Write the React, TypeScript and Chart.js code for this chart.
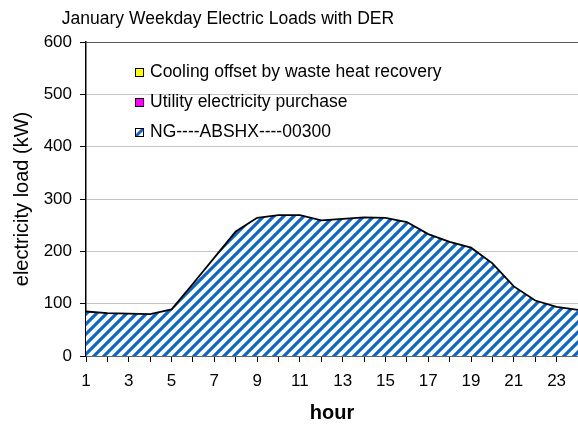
import { useEffect, useRef } from "react";
import { Chart, registerables } from "chart.js";

Chart.register(...registerables);

const chartTitle = "January Weekday Electric Loads with DER";
const hours = ["1", "2", "3", "4", "5", "6", "7", "8", "9", "10", "11", "12", "13", "14", "15", "16", "17", "18", "19", "20", "21", "22", "23", "24"];
const ngLoad = [85, 82, 81, 80, 89, 138, 188, 238, 264, 269, 269, 259, 262, 265, 264, 256, 233, 218, 207, 177, 133, 106, 94, 88];
const utilityPurchase = [0, 0, 0, 0, 0, 0, 0, 0, 0, 0, 0, 0, 0, 0, 0, 0, 0, 0, 0, 0, 0, 0, 0, 0];
const coolingOffset = [0, 0, 0, 0, 0, 0, 0, 0, 0, 0, 0, 0, 0, 0, 0, 0, 0, 0, 0, 0, 0, 0, 0, 0];
const seriesLabels = ["NG----ABSHX----00300", "Utility electricity purchase", "Cooling offset by waste heat recovery"];
const yTicks = [0, 100, 200, 300, 400, 500, 600];

const FONT = "'Liberation Sans', Arial, sans-serif";
const BLUE = "#0a66cc";

function makePattern(): CanvasPattern | string {
  const s = 10;
  const c = document.createElement("canvas");
  c.width = s;
  c.height = s;
  const g = c.getContext("2d");
  if (!g) return BLUE;
  g.fillStyle = "#ffffff";
  g.fillRect(0, 0, s, s);
  g.strokeStyle = BLUE;
  g.lineWidth = 3.2;
  g.lineCap = "square";
  g.beginPath();
  g.moveTo(0, s);
  g.lineTo(s, 0);
  g.moveTo(-3, 3);
  g.lineTo(3, -3);
  g.moveTo(s - 3, s + 3);
  g.lineTo(s + 3, s - 3);
  g.stroke();
  const p = g.createPattern(c, "repeat");
  return p || BLUE;
}

const titlePlugin = {
  id: "customTitle",
  afterDraw(chart: any) {
    const ctx = chart.ctx;
    ctx.save();
    ctx.font = `17.5px ${FONT}`;
    ctx.fillStyle = "#000";
    ctx.textAlign = "center";
    ctx.textBaseline = "middle";
    ctx.fillText(chartTitle, 228, 19);
    ctx.restore();
  },
};

const legendPlugin = {
  id: "customLegend",
  afterDraw(chart: any) {
    const ctx = chart.ctx;
    const ds = chart.data.datasets;
    const order = [2, 1, 0];
    ctx.save();
    ctx.font = `17.5px ${FONT}`;
    ctx.textBaseline = "middle";
    ctx.textAlign = "left";
    order.forEach((di, row) => {
      const d = ds[di];
      const cy = 72.5 + row * 30;
      const bx = 135;
      const by = Math.round(cy - 4.5);
      if (d.legendKind === "hatch") {
        ctx.fillStyle = "#fff";
        ctx.fillRect(bx, by, 9, 9);
        ctx.save();
        ctx.beginPath();
        ctx.rect(bx, by, 9, 9);
        ctx.clip();
        ctx.strokeStyle = BLUE;
        ctx.lineWidth = 3;
        ctx.beginPath();
        ctx.moveTo(bx + 1, by + 8);
        ctx.lineTo(bx + 8, by + 1);
        ctx.stroke();
        ctx.restore();
      } else {
        ctx.fillStyle = d.backgroundColor;
        ctx.fillRect(bx, by, 9, 9);
      }
      ctx.strokeStyle = "#000";
      ctx.lineWidth = 1;
      ctx.strokeRect(bx + 0.5, by + 0.5, 8, 8);
      ctx.fillStyle = "#000";
      ctx.fillText(d.label, 150, cy);
    });
    ctx.restore();
  },
};

export default function App() {
  const ref = useRef<HTMLCanvasElement | null>(null);

  useEffect(() => {
    if (!ref.current) return;
    const pattern = makePattern();
    const chart = new Chart(ref.current, {
      type: "line",
      data: {
        labels: hours,
        datasets: [
          {
            label: seriesLabels[0],
            data: ngLoad,
            backgroundColor: pattern as any,
            borderColor: "#000",
            borderWidth: 1.8,
            fill: "origin",
            pointRadius: 0,
            tension: 0,
            legendKind: "hatch",
          } as any,
          {
            label: seriesLabels[1],
            data: utilityPurchase,
            backgroundColor: "#ff00ff",
            borderWidth: 0,
            showLine: false,
            fill: false,
            pointRadius: 0,
          } as any,
          {
            label: seriesLabels[2],
            data: coolingOffset,
            backgroundColor: "#ffff00",
            borderWidth: 0,
            showLine: false,
            fill: false,
            pointRadius: 0,
          } as any,
        ],
      },
      options: {
        animation: false,
        responsive: false,
        maintainAspectRatio: false,
        layout: { padding: { top: 42, left: 0, right: 0, bottom: 0 } },
        plugins: {
          legend: { display: false },
          title: { display: false },
          tooltip: { enabled: false },
        },
        scales: {
          x: {
            type: "category",
            offset: false,
            grid: {
              display: true,
              drawOnChartArea: false,
              drawTicks: true,
              tickLength: 6,
              tickColor: "#000",
              lineWidth: 1,
            },
            border: { color: "#000", width: 1.5 },
            ticks: {
              autoSkip: false,
              maxRotation: 0,
              minRotation: 0,
              padding: 9,
              color: "#000",
              font: { family: FONT, size: 17 },
              callback: (_v: any, i: number) => (i % 2 === 0 ? hours[i] : ""),
            },
            title: {
              display: true,
              text: "hour",
              color: "#000",
              font: { family: FONT, size: 20, weight: "bold" },
              padding: { top: 0, bottom: 9 },
            },
            afterFit: (scale: any) => {
              scale.height = 78;
              scale.paddingRight = 0;
            },
          },
          y: {
            stacked: true,
            min: 0,
            max: 600,
            afterBuildTicks: (scale: any) => {
              scale.ticks = yTicks.map((v) => ({ value: v }));
            },
            grid: {
              color: (c: any) => (c.tick && c.tick.value === 600 ? "#5a5a5a" : "#c4c4c4"),
              lineWidth: 1,
              tickColor: "#000",
              tickLength: 6,
            },
            border: { color: "#000", width: 1.5 },
            ticks: {
              padding: 8,
              color: "#000",
              font: { family: FONT, size: 17 },
            },
            title: {
              display: true,
              text: "electricity load (kW)",
              color: "#000",
              font: { family: FONT, size: 20 },
              padding: { top: 10, bottom: 0 },
            },
            afterFit: (scale: any) => {
              scale.width = 86;
            },
          },
        },
      },
      plugins: [titlePlugin, legendPlugin],
    });
    return () => chart.destroy();
  }, []);

  return (
    <div style={{ position: "fixed", left: 0, top: 0, width: 578, height: 434, background: "#fff" }}>
      <canvas ref={ref} width={578} height={434} style={{ display: "block", width: 578, height: 434 }} />
    </div>
  );
}
